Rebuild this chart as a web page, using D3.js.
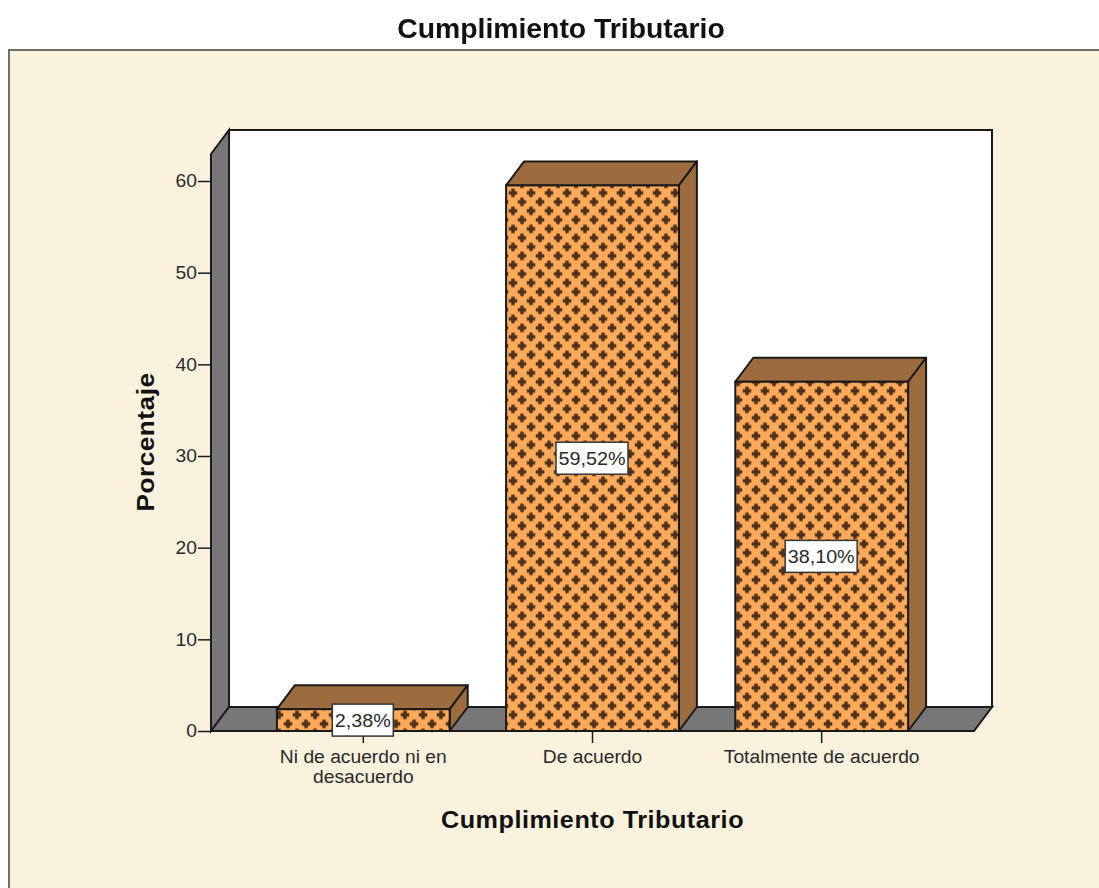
<!DOCTYPE html>
<html>
<head>
<meta charset="utf-8">
<script src="https://cdn.jsdelivr.net/npm/d3@7"></script>
<style>
  html, body { margin: 0; padding: 0; background: #fff; overflow: hidden; }
  svg { display: block; filter: blur(0.45px); font-family: "Liberation Sans", Arial, sans-serif; }
</style>
</head>
<body>
<div id="chart"></div>
<script>
// chart values
const categories = ["Ni de acuerdo ni en desacuerdo", "De acuerdo", "Totalmente de acuerdo"];
const percentages = [2.38, 59.52, 38.10];
const valueLabels = ["2,38%", "59,52%", "38,10%"];
const yTicks = [0, 10, 20, 30, 40, 50, 60];
const chartTitle = "Cumplimiento Tributario";
const xTitle = "Cumplimiento Tributario";
const yTitle = "Porcentaje";

const width = 1099, height = 888;
const depthX = 18, depthY = 24; // 3d offset of the back wall
const plot = { left: 211, right: 974, bottom: 731, top: 154 };

const line = "#1a1a1a";
const wallGray = "#777777";
const barFront = "#ffaa5a";
const barShade = "#9c6c3e";
const tickWiden = 1.07; // the original text is stretched sideways a bit
const valueWiden = 1.04;

const svg = d3.select("#chart").append("svg")
  .attr("width", width)
  .attr("height", height);

// crosses fill on the front of the bars
const pattern = svg.append("defs").append("pattern")
  .attr("id", "crosses")
  .attr("patternUnits", "userSpaceOnUse")
  .attr("width", 18)
  .attr("height", 18)
  .attr("x", 505)
  .attr("y", 188.4);
pattern.append("rect").attr("width", 18).attr("height", 18).attr("fill", barFront);
const crossPath = (cx, cy) => `M${cx - 1.75},${cy - 4.25}h3.5v2.5h2.5v3.5h-2.5v2.5h-3.5v-2.5h-2.5v-3.5h2.5z`;
pattern.append("path")
  .attr("d", crossPath(8, 4.5) + crossPath(8, 22.5) + crossPath(17, 13.5) + crossPath(-1, 13.5))
  .attr("fill", "#4e3119");

// background panel
svg.append("rect")
  .attr("x", 9).attr("y", 50)
  .attr("width", width + 10).attr("height", height)
  .attr("fill", "#fbf2dd")
  .attr("stroke", "#6e6e6e")
  .attr("stroke-width", 2);

const x = d3.scaleBand()
  .domain(categories)
  .range([plot.left, plot.right])
  .paddingInner(0.246)
  .paddingOuter(0.2876);

const y = d3.scaleLinear()
  .domain([0, 60])
  .range([plot.bottom, 181]);

const poly = (pts) => "M" + pts.map(p => p.join(",")).join("L") + "Z";
const wallTop = plot.top;

// back wall, left wall, floor
svg.append("path")
  .attr("d", poly([[plot.left + depthX, wallTop - depthY], [plot.right + depthX, wallTop - depthY], [plot.right + depthX, plot.bottom - depthY], [plot.left + depthX, plot.bottom - depthY]]))
  .attr("fill", "#fff").attr("stroke", line).attr("stroke-width", 2);
svg.append("path")
  .attr("d", poly([[plot.left, wallTop], [plot.left + depthX, wallTop - depthY], [plot.left + depthX, plot.bottom - depthY], [plot.left, plot.bottom]]))
  .attr("fill", wallGray).attr("stroke", line).attr("stroke-width", 2);
svg.append("path")
  .attr("d", poly([[plot.left, plot.bottom], [plot.left + depthX, plot.bottom - depthY], [plot.right + depthX, plot.bottom - depthY], [plot.right, plot.bottom]]))
  .attr("fill", wallGray).attr("stroke", line).attr("stroke-width", 2);

// axes
const yAxis = svg.append("g")
  .attr("transform", `translate(${plot.left},0)`)
  .call(d3.axisLeft(y).tickValues(yTicks).tickSize(13).tickPadding(1));
yAxis.select(".domain").remove();
yAxis.selectAll("line").attr("stroke", line).attr("stroke-width", 1.5);
yAxis.selectAll("text")
  .attr("font-size", 18)
  .attr("fill", "#2a2a2a")
  .attr("x", 0)
  .attr("transform", `translate(-14,0) scale(${tickWiden},1)`);

const xAxis = svg.append("g")
  .attr("transform", `translate(0,${plot.bottom})`)
  .call(d3.axisBottom(x).tickSize(12).tickPadding(0));
xAxis.select(".domain").remove();
xAxis.selectAll("line").attr("stroke", line).attr("stroke-width", 1.5);
xAxis.selectAll("text").remove();

// tick labels, wrapped like the original
const xLabelLines = [["Ni de acuerdo ni en", "desacuerdo"], ["De acuerdo"], ["Totalmente de acuerdo"]];
const xLabels = svg.append("g").selectAll("text")
  .data(categories)
  .join("text")
  .attr("text-anchor", "middle")
  .attr("font-size", 18)
  .attr("fill", "#2a2a2a")
  .attr("transform", d => `translate(${x(d) + x.bandwidth() / 2},763) scale(${tickWiden},1)`);
xLabels.each(function (d, i) {
  d3.select(this).selectAll("tspan")
    .data(xLabelLines[i])
    .join("tspan")
    .attr("x", 0)
    .attr("dy", (t, j) => j === 0 ? 0 : 20)
    .text(t => t);
});

// bars
const bars = svg.append("g").selectAll("g")
  .data(categories)
  .join("g");

bars.append("path")
  .attr("d", (d, i) => {
    const x0 = x(d), x1 = x0 + x.bandwidth(), yv = y(percentages[i]);
    return poly([[x0, yv], [x0 + depthX, yv - depthY], [x1 + depthX, yv - depthY], [x1, yv]]);
  })
  .attr("fill", barShade).attr("stroke", line).attr("stroke-width", 2).attr("stroke-linejoin", "round");
bars.append("path")
  .attr("d", (d, i) => {
    const x1 = x(d) + x.bandwidth(), yv = y(percentages[i]);
    return poly([[x1, yv], [x1 + depthX, yv - depthY], [x1 + depthX, plot.bottom - depthY], [x1, plot.bottom]]);
  })
  .attr("fill", barShade).attr("stroke", line).attr("stroke-width", 2).attr("stroke-linejoin", "round");
bars.append("rect")
  .attr("x", d => x(d))
  .attr("y", (d, i) => y(percentages[i]))
  .attr("width", x.bandwidth())
  .attr("height", (d, i) => plot.bottom - y(percentages[i]))
  .attr("fill", "url(#crosses)")
  .attr("stroke", line)
  .attr("stroke-width", 2);

// value labels in white boxes
const labels = svg.append("g").selectAll("g")
  .data(categories)
  .join("g")
  .attr("transform", (d, i) => `translate(${x(d) + x.bandwidth() / 2 - 0.5},${y(percentages[i] / 2)})`);
labels.append("rect")
  .attr("fill", "#fff").attr("stroke", "#333").attr("stroke-width", 1.5);
labels.append("text")
  .attr("text-anchor", "middle")
  .attr("dy", "0.36em")
  .attr("font-size", 19)
  .attr("fill", "#2a2a2a")
  .attr("transform", `scale(${valueWiden},1)`)
  .text((d, i) => valueLabels[i]);
labels.each(function () {
  const g = d3.select(this);
  const w = g.select("text").node().getBBox().width * valueWiden;
  g.select("rect")
    .attr("x", -w / 2 - 2.5)
    .attr("y", -16)
    .attr("width", w + 5)
    .attr("height", 32);
});

// titles
svg.append("text")
  .attr("transform", "translate(561,38) scale(1.05,1)")
  .attr("text-anchor", "middle")
  .attr("font-size", 27)
  .attr("font-weight", "bold")
  .attr("fill", "#111")
  .text(chartTitle);
svg.append("text")
  .attr("transform", "translate(592.5,828) scale(1.05,1)")
  .attr("text-anchor", "middle")
  .attr("font-size", 24)
  .attr("font-weight", "bold")
  .attr("letter-spacing", 0.5)
  .attr("fill", "#111")
  .text(xTitle);
svg.append("text")
  .attr("transform", "translate(154,442) rotate(-90) scale(1.09,1)")
  .attr("text-anchor", "middle")
  .attr("font-size", 24)
  .attr("font-weight", "bold")
  .attr("letter-spacing", 0.5)
  .attr("fill", "#111")
  .text(yTitle);
</script>
</body>
</html>
